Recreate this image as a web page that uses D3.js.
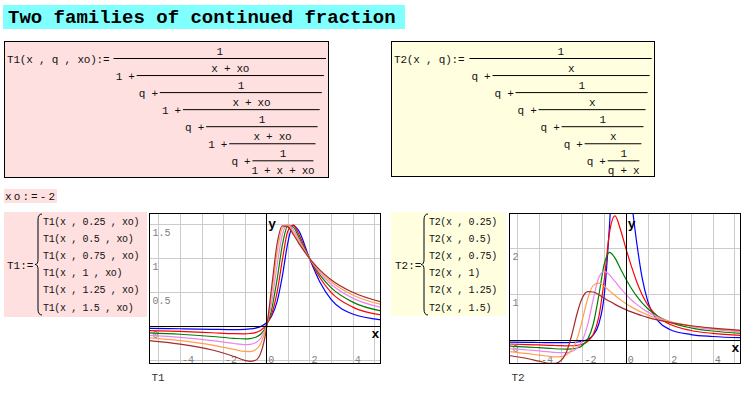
<!DOCTYPE html>
<html>
<head>
<meta charset="utf-8">
<script src="https://cdn.jsdelivr.net/npm/d3@7"></script>
<style>
  body { margin: 0; background: #fff; }
  svg { display: block; }
  text { font-family: "Liberation Mono", "DejaVu Sans Mono", monospace; fill: #111; }
</style>
</head>
<body>
<svg width="747" height="397"></svg>
<script>
// q parameter of each trace and its colour
const qValues = [0.25, 0.5, 0.75, 1, 1.25, 1.5];
const traceColors = ["#0000ff", "#ff0000", "#008000", "#ee82ee", "#ffa050", "#a52a2a"];

// T1(x, q, xo) with xo = -2
const t1X = [-5.5, -4, -2.5, -1.5, -1, -0.75, -0.5, -0.25, 0, 0.25, 0.5, 0.75, 1, 1.25, 1.5, 2, 2.5, 3, 4, 5.5];
const t1Q025 = [-0.030, -0.036, -0.044, -0.048, -0.044, -0.038, -0.026, -0.001, 0.049, 0.153, 0.364, 0.750, 1.235, 1.484, 1.406, 1.000, 0.641, 0.396, 0.181, 0.090];
const t1Q050 = [-0.062, -0.075, -0.095, -0.109, -0.111, -0.106, -0.092, -0.057, 0.019, 0.181, 0.500, 0.987, 1.400, 1.487, 1.357, 1.000, 0.707, 0.500, 0.282, 0.159];
const t1Q075 = [-0.095, -0.117, -0.150, -0.177, -0.185, -0.181, -0.162, -0.113, 0.003, 0.250, 0.689, 1.204, 1.480, 1.460, 1.315, 1.000, 0.750, 0.568, 0.356, 0.216];
const t1Q100 = [-0.131, -0.162, -0.210, -0.253, -0.269, -0.266, -0.243, -0.172, 0.000, 0.356, 0.897, 1.358, 1.500, 1.422, 1.279, 1.000, 0.781, 0.618, 0.414, 0.265];
const t1Q125 = [-0.169, -0.210, -0.276, -0.340, -0.370, -0.372, -0.345, -0.250, -0.005, 0.478, 1.080, 1.444, 1.488, 1.385, 1.249, 1.000, 0.804, 0.656, 0.461, 0.308];
const t1Q150 = [-0.209, -0.262, -0.349, -0.444, -0.500, -0.517, -0.500, -0.387, -0.053, 0.581, 1.214, 1.478, 1.462, 1.350, 1.224, 1.000, 0.823, 0.686, 0.500, 0.345];

// T2(x, q)
const t2X = [-5.5, -4.5, -4, -3.5, -3.25, -3, -2.75, -2.5, -2.25, -2, -1.75, -1.5, -1.25, -1, -0.75, -0.5, -0.25, 0, 0.25, 0.5, 0.75, 1, 1.5, 2, 3, 4, 5.5];
const t2Q025 = [-0.038, -0.044, -0.047, -0.050, -0.051, -0.051, -0.050, -0.047, -0.038, -0.019, 0.023, 0.118, 0.350, 0.965, 2.528, 4.690, 4.893, 4.000, 3.060, 2.122, 1.356, 0.864, 0.410, 0.242, 0.125, 0.083, 0.055];
const t2Q050 = [-0.079, -0.092, -0.100, -0.109, -0.113, -0.117, -0.119, -0.118, -0.109, -0.084, -0.021, 0.131, 0.500, 1.301, 2.353, 2.706, 2.409, 2.000, 1.617, 1.275, 0.992, 0.775, 0.500, 0.353, 0.214, 0.151, 0.104];
const t2Q075 = [-0.123, -0.146, -0.160, -0.175, -0.183, -0.189, -0.192, -0.188, -0.168, -0.111, 0.031, 0.355, 0.964, 1.648, 1.910, 1.787, 1.558, 1.333, 1.133, 0.959, 0.812, 0.691, 0.516, 0.402, 0.271, 0.202, 0.145];
const t2Q100 = [-0.176, -0.210, -0.231, -0.253, -0.263, -0.269, -0.266, -0.243, -0.172, 0.000, 0.356, 0.897, 1.358, 1.500, 1.422, 1.279, 1.133, 1.000, 0.883, 0.781, 0.693, 0.618, 0.500, 0.414, 0.303, 0.236, 0.176];
const t2Q125 = [-0.239, -0.290, -0.321, -0.351, -0.361, -0.356, -0.320, -0.213, 0.030, 0.452, 0.920, 1.195, 1.242, 1.175, 1.075, 0.975, 0.883, 0.800, 0.727, 0.662, 0.604, 0.554, 0.471, 0.407, 0.316, 0.256, 0.198];
const t2Q150 = [-0.322, -0.401, -0.453, -0.500, -0.500, -0.445, -0.269, 0.099, 0.578, 0.929, 1.058, 1.050, 0.990, 0.918, 0.847, 0.781, 0.721, 0.667, 0.618, 0.574, 0.535, 0.500, 0.440, 0.391, 0.317, 0.266, 0.212];

// axis ticks
const xGridTicks = [-5, -4, -3, -2, -1, 1, 2, 3, 4, 5];
const xLabelTicks = [-4, -2, 0, 2, 4];
const t1YGrid = [-0.5, 0.5, 1, 1.5];
const t1YLabels = [0, 0.5, 1, 1.5];
const t2YGrid = [1, 2];
const t2YLabels = [0, 1, 2];

const svg = d3.select("svg");

// title
svg.append("rect").attr("x", 3).attr("y", 5).attr("width", 402).attr("height", 24).attr("fill", "#80ffff");
svg.append("text").attr("x", 8).attr("y", 23).attr("font-size", 19).attr("font-weight", "bold")
    .style("fill", "#000").text("Two families of continued fraction");

function txt(g, x, y, s, size, anchor) {
    return g.append("text").attr("x", x).attr("y", y).attr("font-size", size || 11)
        .attr("text-anchor", anchor || "start").text(s);
}

// continued fraction blocks
function drawFraction(o) {
    const g = svg.append("g");
    g.append("rect").attr("x", o.box[0] + 0.5).attr("y", o.box[1] + 0.5)
        .attr("width", o.box[2]).attr("height", o.box[3])
        .attr("fill", o.fill).attr("stroke", "#000");
    txt(g, o.headX, 63, o.head).attr("letter-spacing", -0.2);
    o.nums.forEach((num, k) => {
        const x1 = o.x1 + o.dx * k, x2 = o.x2 - o.shrink * k, y = 58.5 + 17.05 * k;
        g.append("line").attr("x1", x1).attr("x2", x2).attr("y1", y).attr("y2", y)
            .attr("stroke", "#000").attr("stroke-width", 1);
        txt(g, (x1 + x2) / 2, y - 4, num, 11, "middle").attr("letter-spacing", -0.3);
        if (k > 0) txt(g, x1 - 21, y + 4, o.prefix[k - 1]).attr("letter-spacing", -0.3);
        if (k === o.nums.length - 1) txt(g, (x1 + x2) / 2, y + 13, o.last, 11, "middle").attr("letter-spacing", -0.3);
    });
}

drawFraction({
    box: [4, 41, 324, 136], fill: "#ffe0e0", headX: 7, head: "T1(x , q , xo):=",
    x1: 113.5, dx: 23.15, x2: 326, shrink: 2.1,
    nums: ["1", "x + xo", "1", "x + xo", "1", "x + xo", "1"],
    prefix: ["1 +", "q +", "1 +", "q +", "1 +", "q +"],
    last: "1 + x + xo"
});
drawFraction({
    box: [391, 41, 263, 135], fill: "#ffffe0", headX: 394, head: "T2(x , q):=",
    x1: 469.5, dx: 23.03, x2: 651.7, shrink: 2.05,
    nums: ["1", "x", "1", "x", "1", "x", "1"],
    prefix: ["q +", "q +", "q +", "q +", "q +", "q +"],
    last: "q + x"
});

// xo := -2
svg.append("rect").attr("x", 4).attr("y", 189).attr("width", 53).attr("height", 14).attr("fill", "#ffe0e0");
txt(svg, 5, 200, "xo:=-2").attr("letter-spacing", 2.1);

// vector definitions
function brace(x, y0, y1) {
    const ym = (y0 + y1) / 2;
    return `M${x + 4},${y0} Q${x},${y0} ${x},${y0 + 6} L${x},${ym - 5} Q${x},${ym} ${x - 3},${ym}` +
        ` Q${x},${ym} ${x},${ym + 5} L${x},${y1 - 6} Q${x},${y1} ${x + 4},${y1}`;
}

function drawList(o) {
    const g = svg.append("g");
    g.append("rect").attr("x", o.box[0]).attr("y", o.box[1]).attr("width", o.box[2]).attr("height", o.box[3])
        .attr("fill", o.fill);
    txt(g, o.nameX, 269, o.name);
    g.append("path").attr("d", brace(o.braceX, 214, 315)).attr("fill", "none").attr("stroke", "#000");
    qValues.forEach((q, k) => {
        txt(g, o.itemX, 224.5 + 17.2 * k, o.item(q), 10).attr("letter-spacing", -0.35);
    });
}

drawList({ box: [4, 212, 143, 105], fill: "#ffe0e0", name: "T1:=", nameX: 7, braceX: 38, itemX: 43,
    item: q => `T1(x , ${q} , xo)` });
drawList({ box: [391, 212, 115, 104], fill: "#ffffe0", name: "T2:=", nameX: 395, braceX: 424, itemX: 429,
    item: q => `T2(x , ${q})` });

// plots
function drawPlot(o) {
    const x = d3.scaleLinear().domain(o.xDomain).range([o.left, o.left + 231]);
    const y = d3.scaleLinear().domain(o.yDomain).range([363.5, 213.5]);
    const g = svg.append("g");
    const clipId = "clip" + o.name;
    g.append("clipPath").attr("id", clipId).append("rect")
        .attr("x", o.left).attr("y", 213.5).attr("width", 231).attr("height", 150);
    const inner = g.append("g").attr("clip-path", `url(#${clipId})`);

    inner.append("rect").attr("x", o.left).attr("y", 213.5).attr("width", 231).attr("height", 150).attr("fill", "#fff");

    inner.selectAll(".gx").data(xGridTicks).join("line")
        .attr("x1", d => Math.round(x(d)) + 0.5).attr("x2", d => Math.round(x(d)) + 0.5)
        .attr("y1", 213.5).attr("y2", 363.5).attr("stroke", "#cccccc");
    inner.selectAll(".gy").data(o.yGrid).join("line")
        .attr("y1", d => Math.round(y(d)) + 0.5).attr("y2", d => Math.round(y(d)) + 0.5)
        .attr("x1", o.left).attr("x2", o.left + 231).attr("stroke", "#cccccc");

    // tick labels
    inner.selectAll(".lx").data(xLabelTicks).join("text")
        .attr("x", d => x(d) + 2).attr("y", 363).attr("font-size", 10)
        .style("fill", "#808080").text(d => String(d));
    inner.selectAll(".ly").data(o.yLabels).join("text")
        .attr("x", o.left + 3).attr("y", d => y(d) + 11.5).attr("font-size", 10)
        .style("fill", "#808080").text(d => String(d));

    // traces
    const line = d3.line().x(d => x(d[0])).y(d => y(d[1])).curve(d3.curveMonotoneX);
    inner.selectAll(".trace").data(o.series).join("path")
        .attr("d", s => line(o.xs.map((v, i) => [v, s[i]])))
        .attr("fill", "none").attr("stroke", (s, i) => traceColors[i]).attr("stroke-width", 1.2);

    // axes through the origin
    inner.append("line").attr("x1", o.left).attr("x2", o.left + 231)
        .attr("y1", Math.round(y(0)) + 0.5).attr("y2", Math.round(y(0)) + 0.5).attr("stroke", "#000");
    inner.append("line").attr("y1", 213.5).attr("y2", 363.5)
        .attr("x1", Math.round(x(0)) + 0.5).attr("x2", Math.round(x(0)) + 0.5).attr("stroke", "#000");

    g.append("rect").attr("x", o.left).attr("y", 213.5).attr("width", 231).attr("height", 150)
        .attr("fill", "none").attr("stroke", "#000");

    g.append("text").attr("x", x(0) + 2).attr("y", 227.5).attr("font-size", 13).attr("font-weight", "bold")
        .style("fill", "#000").text("y");
    g.append("text").attr("x", o.left + 222).attr("y", y(0) + 12).attr("font-size", 13).attr("font-weight", "bold")
        .style("fill", "#000").text("x");
    g.append("text").attr("x", o.left + 2).attr("y", 381).attr("font-size", 11).style("fill", "#333").text(o.name);
}

drawPlot({
    name: "T1", left: 149.5, xDomain: [-5.41, 5.29], yDomain: [-0.547, 1.659],
    yGrid: t1YGrid, yLabels: t1YLabels, xs: t1X,
    series: [t1Q025, t1Q050, t1Q075, t1Q100, t1Q125, t1Q150]
});
drawPlot({
    name: "T2", left: 509.5, xDomain: [-5.36, 5.28], yDomain: [-0.504, 2.757],
    yGrid: t2YGrid, yLabels: t2YLabels, xs: t2X,
    series: [t2Q025, t2Q050, t2Q075, t2Q100, t2Q125, t2Q150]
});
</script>
</body>
</html>
